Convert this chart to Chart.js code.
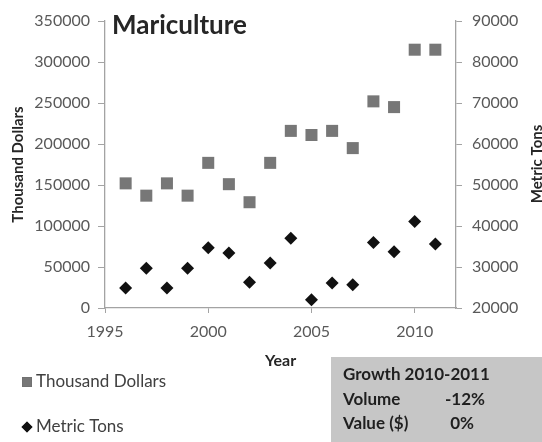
<!DOCTYPE html>
<html lang="en">
<head>
    <meta charset="UTF-8">
    <title>Mariculture</title>
    <script src="https://cdn.jsdelivr.net/npm/chart.js"></script>
    <style>
        html, body { margin: 0; padding: 0; background: #fff; }
        #wrap { width: 542px; height: 442px; position: relative; }
    </style>
</head>
<body>
    <div id="wrap"><canvas id="chart"></canvas></div>

    <script>
        // values
        const years = [1996, 1997, 1998, 1999, 2000, 2001, 2002, 2003, 2004, 2005, 2006, 2007, 2008, 2009, 2010, 2011];
        const dollars = [152000, 137000, 152000, 137000, 177000, 151000, 129000, 177000, 216000, 211000, 216000, 195000, 252000, 245000, 315000, 315000];
        const tons = [24900, 29700, 24900, 29700, 34700, 33400, 26300, 31000, 37000, 22000, 26100, 25700, 36000, 33700, 41100, 35600];

        const xTicks = [1995, 2000, 2005, 2010];
        const leftTicks = [0, 50000, 100000, 150000, 200000, 250000, 300000, 350000];
        const rightTicks = [20000, 30000, 40000, 50000, 60000, 70000, 80000, 90000];

        const growthRows = [
            ['Growth 2010-2011', ''],
            ['Volume', '-12%'],
            ['Value ($)', '0%']
        ];

        const FONT = 'Lato';
        const axisGray = '#a3a3a3';
        const labelGray = '#595959';
        const plain = v => String(v);

        const extras = {
            id: 'extras',
            afterDraw(chart) {
                const ctx = chart.ctx;
                ctx.save();

                // chart title sits inside the plot area
                ctx.fillStyle = '#262626';
                ctx.font = `bold 26px ${FONT}`;
                ctx.textAlign = 'left';
                ctx.textBaseline = 'alphabetic';
                ctx.fillText('Mariculture', 112, 34);

                // right axis title, clipped by the window edge like the original
                ctx.save();
                ctx.translate(542, 164);
                ctx.rotate(-Math.PI / 2);
                ctx.font = `bold 15px ${FONT}`;
                ctx.textAlign = 'center';
                ctx.fillStyle = '#262626';
                ctx.fillText('Metric Tons', 0, 0);
                ctx.restore();

                // legend
                const rows = [382, 427];
                chart.data.datasets.forEach((ds, i) => {
                    Chart.helpers.drawPoint(ctx, {
                        pointStyle: ds.pointStyle,
                        radius: ds.pointStyle === 'rect' ? 7 : 5.5,
                        borderWidth: 0,
                        rotation: 0
                    }, 27, rows[i]);
                    ctx.fillStyle = ds.backgroundColor;
                    ctx.fill();
                    ctx.fillStyle = '#404040';
                    ctx.font = `17px ${FONT}`;
                    ctx.textAlign = 'left';
                    ctx.textBaseline = 'middle';
                    ctx.fillText(ds.label, 36, rows[i]);
                });

                // growth box
                ctx.fillStyle = '#c6c6c6';
                ctx.fillRect(331, 357, 211, 85);
                ctx.fillStyle = '#1f1f1f';
                ctx.font = `bold 17px ${FONT}`;
                ctx.textBaseline = 'middle';
                growthRows.forEach((r, i) => {
                    const y = 375 + i * 24.5;
                    ctx.textAlign = 'left';
                    ctx.fillText(r[0], 343, y);
                    if (r[1]) {
                        ctx.textAlign = 'right';
                        ctx.fillText(r[1], i === 1 ? 485 : 474, y);
                    }
                });

                ctx.restore();
            }
        };

        const ctx = document.getElementById('chart').getContext('2d');
        const chart = new Chart(ctx, {
            type: 'scatter',
            data: {
                datasets: [
                    {
                        label: 'Thousand Dollars',
                        data: years.map((y, i) => ({ x: y, y: dollars[i] })),
                        yAxisID: 'y',
                        pointStyle: 'rect',
                        pointRadius: 8.5,
                        pointBorderWidth: 0,
                        backgroundColor: '#777777',
                        borderColor: '#777777'
                    },
                    {
                        label: 'Metric Tons',
                        data: years.map((y, i) => ({ x: y, y: tons[i] })),
                        yAxisID: 'y2',
                        pointStyle: 'rectRot',
                        pointRadius: 6.5,
                        pointBorderWidth: 0,
                        backgroundColor: '#111111',
                        borderColor: '#111111'
                    }
                ]
            },
            options: {
                responsive: true,
                maintainAspectRatio: false,
                animation: false,
                layout: { padding: { top: 21, left: 0, right: 0, bottom: 72 } },
                plugins: {
                    legend: { display: false },
                    tooltip: { enabled: false }
                },
                scales: {
                    x: {
                        type: 'linear',
                        position: 'bottom',
                        min: 1995,
                        max: 2012,
                        afterBuildTicks: s => { s.ticks = xTicks.map(v => ({ value: v })); },
                        afterFit: s => { s.height = 62; },
                        ticks: { font: { family: FONT, size: 16 }, color: labelGray, padding: 9, callback: plain },
                        grid: { drawOnChartArea: false, tickLength: 5, tickColor: axisGray },
                        border: { color: axisGray, width: 1.3 },
                        title: {
                            display: true,
                            text: 'Year',
                            color: '#262626',
                            font: { family: FONT, size: 16, weight: 'bold' },
                            padding: 0
                        }
                    },
                    y: {
                        position: 'left',
                        min: 0,
                        max: 350000,
                        afterBuildTicks: s => { s.ticks = leftTicks.map(v => ({ value: v })); },
                        afterFit: s => { s.width = 105; },
                        ticks: { font: { family: FONT, size: 16 }, color: labelGray, padding: 8, callback: plain },
                        grid: { drawOnChartArea: false, tickLength: 7, tickColor: axisGray },
                        border: { color: axisGray, width: 1.3 },
                        title: {
                            display: true,
                            text: 'Thousand Dollars',
                            color: '#262626',
                            font: { family: FONT, size: 15, weight: 'bold' },
                            padding: { top: 9, bottom: 0 }
                        }
                    },
                    y2: {
                        position: 'right',
                        min: 20000,
                        max: 90000,
                        afterBuildTicks: s => { s.ticks = rightTicks.map(v => ({ value: v })); },
                        afterFit: s => { s.width = 86; },
                        ticks: { font: { family: FONT, size: 16 }, color: labelGray, padding: 10, callback: plain },
                        grid: { drawOnChartArea: false, tickLength: 6, tickColor: axisGray },
                        border: { color: axisGray, width: 1.3 }
                    }
                }
            },
            plugins: [extras]
        });
    </script>
</body>
</html>
